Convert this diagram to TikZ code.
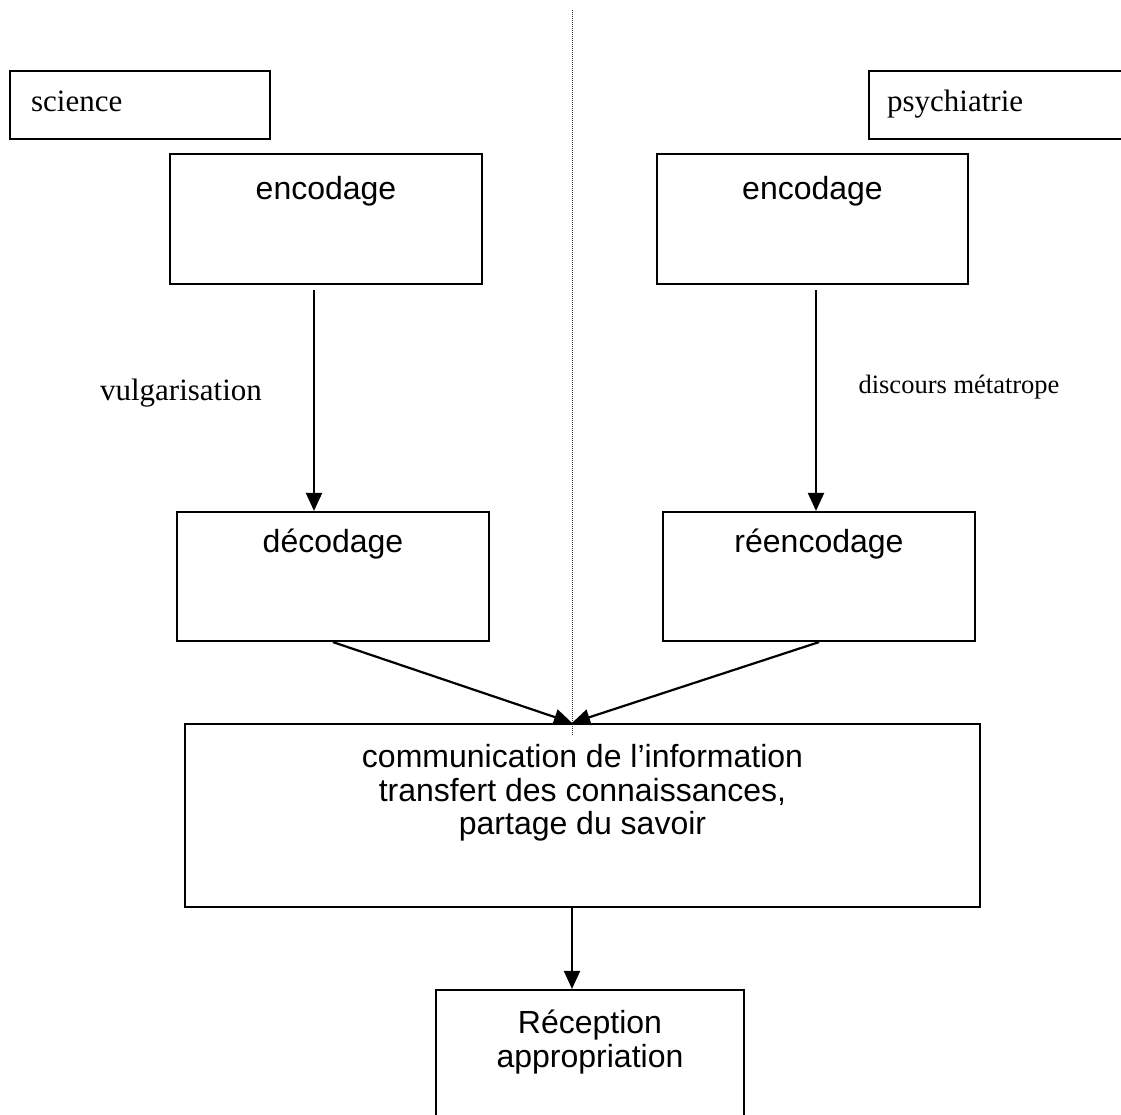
\documentclass[tikz,border=0pt]{standalone}
\usepackage{fontspec}
\setmainfont{Liberation Serif}
\newfontfamily\arialfont{Liberation Sans}
\usetikzlibrary{arrows.meta,positioning}

\begin{document}
\begin{tikzpicture}[x=1pt,y=-1pt,
  box/.style={draw,line width=2.2pt,inner sep=0pt},
  stxt/.style={font=\arialfont\fontsize{32}{33.5}\selectfont,inner sep=0pt,align=center},
  rtxt/.style={font=\fontsize{31}{36}\selectfont,inner sep=0pt},
  arr/.style={line width=2.2pt,-{Triangle[length=18pt,width=16pt]}}]
 \useasboundingbox (0,0) rectangle (1121,1115);
 % separation line
 \coordinate (dotT) at (572,10);
 \coordinate (dotB) at (572,735);
 \draw[densely dotted,line width=1pt,black!80] (dotT)--(dotB);
 % the two fields
 \node[box,minimum width=260pt,minimum height=68pt] (sci) at (140,105) {};
 \node[rtxt,below right=15.8pt and 22pt of sci.north west] (scit) {\strut science};
 \node[box,minimum width=260pt,minimum height=68pt] (psy) at (999,105) {};
 \node[rtxt,below right=15.8pt and 19pt of psy.north west] (psyt) {\strut psychiatrie};
 % encoding
 \node[box,minimum width=312pt,minimum height=130pt] (encL) at (326,219) {};
 \node[stxt,below=23pt of encL.north] (encLt) {\strut encodage};
 \node[box,minimum width=311pt,minimum height=130pt] (encR) at (812.5,219) {};
 \node[stxt,below=23pt of encR.north] (encRt) {\strut encodage};
 \node[box,minimum width=312pt,minimum height=129pt] (decL) at (333,576.5) {};
 \node[stxt,below=18pt of decL.north] (decLt) {\strut décodage};
 \node[box,minimum width=312pt,minimum height=129pt] (reenc) at (819,576.5) {};
 \node[stxt,below=18pt of reenc.north] (reenct) {\strut réencodage};
 \coordinate (aL) at (314,290);
 \coordinate (aR) at (816,290);
 \draw[arr] (aL)--(aL |- decL.north);
 \draw[arr] (aR)--(aR |- reenc.north);
 \node[rtxt,anchor=base] (vulg) at (181,400) {vulgarisation};
 \node[rtxt,font=\fontsize{26.5}{31}\selectfont,anchor=base] (metat) at (959,393) {discours métatrope};
 % transfer
 \node[box,minimum width=795pt,minimum height=183pt] (comm) at (582.5,815.5) {};
 \node[stxt,below=21pt of comm.north] (commt) {\strut communication de l’information\\
   transfert des connaissances,\\partage du savoir};
 \coordinate (meet) at (dotB |- comm.north);
 \draw[arr] (decL.south)--(meet);
 \draw[arr] (reenc.south)--(meet);
 \node[box,minimum width=308pt,minimum height=150pt] (recep) at (590,1065) {};
 \node[stxt,below=21pt of recep.north] (recept) {\strut Réception\\appropriation};
 \draw[arr] (meet |- comm.south)--(meet |- recep.north);
\end{tikzpicture}
\end{document}
